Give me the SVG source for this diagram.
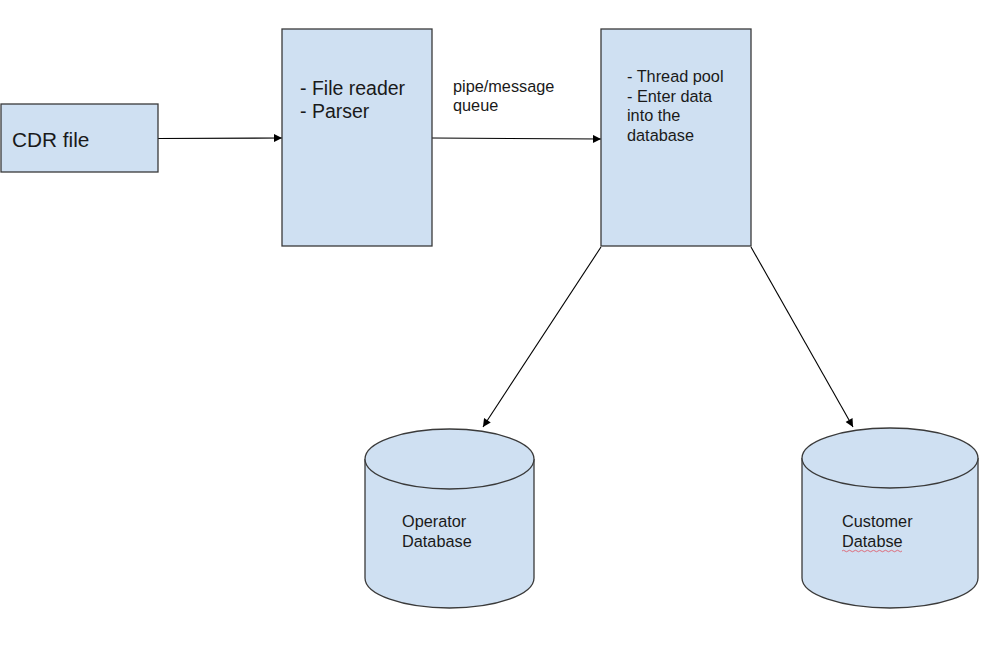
<svg xmlns="http://www.w3.org/2000/svg" width="1000" height="665" viewBox="0 0 1000 665">
<defs>
<style>
.box{fill:#cfe0f2;stroke:#3a3a3a;stroke-width:1.3}
.t{font-family:"Liberation Sans",Arial,sans-serif;fill:#1a1a1a}
.s{font-size:16.3px}
.conn{stroke:#000;stroke-width:1.1;fill:none;marker-end:url(#ah)}
</style>
<marker id="ah" viewBox="0 0 10 10" refX="10" refY="5" markerWidth="10" markerHeight="8" orient="auto" markerUnits="userSpaceOnUse">
<path d="M0,0 L10,5 L0,10 z" fill="#000"/>
</marker>
</defs>
<rect width="1000" height="665" fill="#fff"/>
<g id="connectors">
<line class="conn" x1="158" y1="138.5" x2="282" y2="138"/>
<line class="conn" x1="432" y1="138" x2="601" y2="139"/>
<line class="conn" x1="601" y1="247" x2="483" y2="427"/>
<line class="conn" x1="751" y1="247" x2="853" y2="427"/>
<text class="t s" x="453" y="92">pipe/message</text>
<text class="t s" x="453" y="111">queue</text>
</g>
<g id="cdr">
<rect class="box" x="1" y="104" width="157" height="68"/>
<text class="t" x="12" y="147" font-size="20.8">CDR file</text>
</g>
<g id="parser">
<rect class="box" x="282" y="29" width="150" height="217"/>
<text class="t" x="300" y="95" font-size="19.5">- File reader</text>
<text class="t" x="300" y="118" font-size="19.5">- Parser</text>
</g>
<g id="threadpool">
<rect class="box" x="601" y="29" width="150" height="217"/>
<text class="t s" x="627" y="82">- Thread pool</text>
<text class="t s" x="627" y="102">- Enter data</text>
<text class="t s" x="627" y="121">into the</text>
<text class="t s" x="627" y="141">database</text>
</g>
<g id="operatordb">
<path class="box" d="M365,459 L365,578 A84.5,30 0 0 0 534,578 L534,459 A84.5,30 0 0 0 365,459 Z"/>
<path class="box" fill="none" d="M365,459 A84.5,30 0 0 0 534,459"/>
<text class="t s" x="402" y="527">Operator</text>
<text class="t s" x="402" y="547">Database</text>
</g>
<g id="customerdb">
<path class="box" d="M802,458 L802,578 A88,30 0 0 0 978,578 L978,458 A88,30 0 0 0 802,458 Z"/>
<path class="box" fill="none" d="M802,458 A88,30 0 0 0 978,458"/>
<text class="t s" x="842" y="527">Customer</text>
<text class="t s" x="842" y="547">Databse</text>
<path d="M842,551 q1.5,-1.5 3,0 t3,0 t3,0 t3,0 t3,0 t3,0 t3,0 t3,0 t3,0 t3,0 t3,0 t3,0 t3,0 t3,0 t3,0 t3,0 t3,0 t3,0 t3,0 t3,0" fill="none" stroke="#e05060" stroke-width="0.8"/>
</g>
</svg>
